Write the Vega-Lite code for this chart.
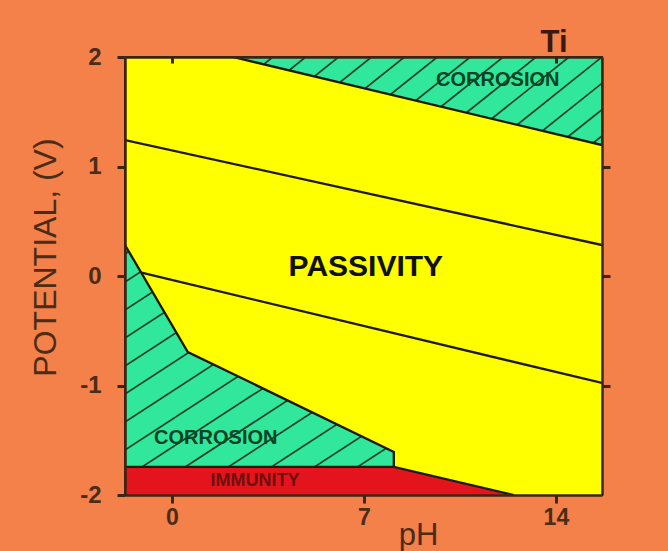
{
  "$schema": "https://vega.github.io/schema/vega-lite/v6.json",
  "width": 477,
  "height": 438,
  "autosize": {"type": "none"},
  "padding": {"left": 125, "top": 57, "right": 66, "bottom": 56},
  "background": "#F4804A",
  "config": {
    "font": "Liberation Sans",
    "view": {"fill": "#30E79B", "stroke": "#3d2413", "strokeWidth": 2}
  },
  "title": {"text": "Ti", "anchor": "end", "dx": -44, "dy": 41, "fontSize": 31, "fontWeight": "bold", "color": "#3a1a10", "offset": 3, "baseline": "alphabetic", "font": "Liberation Sans"},
  "datasets": {
    "hatch": [
      {"x": -17.4, "y": -2.1, "x2": -1.45, "y2": 0.5},
      {"x": -15.83, "y": -2.1, "x2": 0.12, "y2": 0.5},
      {"x": -14.26, "y": -2.1, "x2": 1.69, "y2": 0.5},
      {"x": -12.69, "y": -2.1, "x2": 3.26, "y2": 0.5},
      {"x": -11.12, "y": -2.1, "x2": 4.83, "y2": 0.5},
      {"x": -9.55, "y": -2.1, "x2": 6.4, "y2": 0.5},
      {"x": -7.98, "y": -2.1, "x2": 7.97, "y2": 0.5},
      {"x": -6.41, "y": -2.1, "x2": 9.54, "y2": 0.5},
      {"x": -4.84, "y": -2.1, "x2": 11.11, "y2": 0.5},
      {"x": -3.27, "y": -2.1, "x2": 12.68, "y2": 0.5},
      {"x": -1.7, "y": -2.1, "x2": 14.25, "y2": 0.5},
      {"x": -0.13, "y": -2.1, "x2": 15.82, "y2": 0.5},
      {"x": 1.44, "y": -2.1, "x2": 17.39, "y2": 0.5},
      {"x": 3.01, "y": -2.1, "x2": 18.96, "y2": 0.5},
      {"x": 4.58, "y": -2.1, "x2": 20.53, "y2": 0.5},
      {"x": 6.15, "y": -2.1, "x2": 22.1, "y2": 0.5},
      {"x": -1.32, "y": 1.0, "x2": 4.18, "y2": 2.1},
      {"x": -0.12, "y": 1.0, "x2": 5.38, "y2": 2.1},
      {"x": 1.08, "y": 1.0, "x2": 6.58, "y2": 2.1},
      {"x": 2.28, "y": 1.0, "x2": 7.78, "y2": 2.1},
      {"x": 3.48, "y": 1.0, "x2": 8.98, "y2": 2.1},
      {"x": 4.68, "y": 1.0, "x2": 10.18, "y2": 2.1},
      {"x": 5.88, "y": 1.0, "x2": 11.38, "y2": 2.1},
      {"x": 7.08, "y": 1.0, "x2": 12.58, "y2": 2.1},
      {"x": 8.28, "y": 1.0, "x2": 13.78, "y2": 2.1},
      {"x": 9.48, "y": 1.0, "x2": 14.98, "y2": 2.1},
      {"x": 10.68, "y": 1.0, "x2": 16.18, "y2": 2.1},
      {"x": 11.88, "y": 1.0, "x2": 17.38, "y2": 2.1},
      {"x": 13.08, "y": 1.0, "x2": 18.58, "y2": 2.1},
      {"x": 14.28, "y": 1.0, "x2": 19.78, "y2": 2.1}
    ],
    "passivity": [
      {"x": -1.71, "top": 2.0, "bot": 0.283},
      {"x": 0.58, "top": 2.0, "bot": -0.694},
      {"x": 2.22, "top": 2.0, "bot": -0.893},
      {"x": 8.08, "top": 1.649, "bot": -1.607},
      {"x": 8.1, "top": 1.648, "bot": -1.744},
      {"x": 12.47, "top": 1.388, "bot": -2.0},
      {"x": 15.68, "top": 1.196, "bot": -2.0}
    ],
    "immunity": [
      {"x": -1.71, "top": -1.744, "bot": -2.0},
      {"x": 8.09, "top": -1.744, "bot": -2.0},
      {"x": 12.47, "top": -2.0, "bot": -2.0}
    ],
    "lines": [
      {"s": "a", "i": 0, "x": 2.22, "y": 2.0},
      {"s": "a", "i": 1, "x": 15.68, "y": 1.196},
      {"s": "b", "i": 0, "x": -1.71, "y": 0.283},
      {"s": "b", "i": 1, "x": 0.58, "y": -0.694},
      {"s": "b", "i": 2, "x": 8.09, "y": -1.607},
      {"s": "b", "i": 3, "x": 8.09, "y": -1.744},
      {"s": "c", "i": 0, "x": -1.71, "y": -1.744},
      {"s": "c", "i": 1, "x": 8.09, "y": -1.744},
      {"s": "c", "i": 2, "x": 12.47, "y": -2.0},
      {"s": "d", "i": 0, "x": -1.71, "y": 1.242},
      {"s": "d", "i": 1, "x": 15.68, "y": 0.283},
      {"s": "e", "i": 0, "x": -1.11, "y": 0.03},
      {"s": "e", "i": 1, "x": 15.68, "y": -0.977}
    ],
    "labels": [
      {"kind": "corr", "x": 11.88, "y": 1.79, "text": "CORROSION"},
      {"kind": "corr", "x": 1.6, "y": -1.475, "text": "CORROSION"},
      {"kind": "pass", "x": 7.07, "y": 0.082, "text": "PASSIVITY"},
      {"kind": "imm", "x": 3.03, "y": -1.87, "text": "IMMUNITY"}
    ]
  },
  "resolve": {"axis": {"x": "independent", "y": "independent"}},
  "layer": [
    {
      "data": {"name": "hatch"},
      "mark": {"type": "rule", "clip": true, "color": "#17402a", "strokeWidth": 1.7},
      "encoding": {
        "x": {"field": "x", "type": "quantitative",
          "scale": {"domain": [-1.71, 15.68], "nice": false, "zero": false},
          "axis": {"orient": "bottom", "values": [0, 7, 14], "title": "pH", "titleX": 293, "titleY": 49, "titleBaseline": "alphabetic", "titleFontSize": 31, "titleFontWeight": "normal", "titleColor": "#4a2c17", "titleFont": "Liberation Sans", "labelFontSize": 23, "labelFontWeight": "bold", "labelColor": "#4a2c17", "labelPadding": 3, "tickSize": 8, "tickWidth": 3, "tickColor": "#3d2413", "domainColor": "#3d2413", "domainWidth": 2.5, "grid": false, "zindex": 1}},
        "y": {"field": "y", "type": "quantitative",
          "scale": {"domain": [-2, 2], "nice": false, "zero": false},
          "axis": {"orient": "left", "values": [-2, -1, 0, 1, 2], "labelExpr": "'' + datum.value", "title": "POTENTIAL, (V)", "titleX": -70, "titleY": 200, "titleBaseline": "alphabetic", "titleFontSize": 32, "titleFontWeight": "normal", "titleColor": "#4a2c17", "titleFont": "Liberation Sans", "labelFontSize": 24, "labelFontWeight": "bold", "labelColor": "#4a2c17", "labelPadding": 16, "tickSize": 8, "tickWidth": 3, "tickColor": "#3d2413", "domainColor": "#3d2413", "domainWidth": 2.5, "grid": false, "zindex": 1}},
        "x2": {"field": "x2"},
        "y2": {"field": "y2"}
      }
    },
    {
      "data": {"name": "passivity"},
      "mark": {"type": "area", "color": "#FFFF00", "opacity": 1, "interpolate": "linear"},
      "encoding": {
        "x": {"field": "x", "type": "quantitative",
          "axis": {"orient": "top", "values": [0, 14], "labels": false, "title": null, "tickSize": -6, "tickWidth": 3, "tickColor": "#3d2413", "domainColor": "#3d2413", "domainWidth": 2.5, "grid": false, "zindex": 1}},
        "y": {"field": "top", "type": "quantitative", "stack": null,
          "axis": {"orient": "right", "values": [-1, 0, 1], "labels": false, "title": null, "tickSize": 8, "tickWidth": 3, "tickColor": "#3d2413", "domainColor": "#3d2413", "domainWidth": 2.5, "grid": false, "zindex": 1}},
        "y2": {"field": "bot"}
      }
    },
    {
      "data": {"name": "immunity"},
      "mark": {"type": "area", "color": "#E3141B", "opacity": 1, "interpolate": "linear"},
      "encoding": {
        "x": {"field": "x", "type": "quantitative", "axis": null},
        "y": {"field": "top", "type": "quantitative", "stack": null, "axis": null},
        "y2": {"field": "bot"}
      }
    },
    {
      "data": {"name": "lines"},
      "mark": {"type": "line", "color": "#1f1a0c", "strokeWidth": 2.3, "clip": true},
      "encoding": {
        "x": {"field": "x", "type": "quantitative", "axis": null},
        "y": {"field": "y", "type": "quantitative", "axis": null},
        "detail": {"field": "s"},
        "order": {"field": "i", "type": "quantitative"}
      }
    },
    {
      "data": {"name": "labels"},
      "transform": [{"filter": "datum.kind === 'corr'"}],
      "mark": {"type": "text", "fontSize": 20, "fontWeight": "bold", "color": "#0b4424", "align": "center", "baseline": "middle"},
      "encoding": {
        "x": {"field": "x", "type": "quantitative", "axis": null},
        "y": {"field": "y", "type": "quantitative", "axis": null},
        "text": {"field": "text"}
      }
    },
    {
      "data": {"name": "labels"},
      "transform": [{"filter": "datum.kind === 'pass'"}],
      "mark": {"type": "text", "fontSize": 30, "fontWeight": "bold", "color": "#111111", "align": "center", "baseline": "middle"},
      "encoding": {
        "x": {"field": "x", "type": "quantitative", "axis": null},
        "y": {"field": "y", "type": "quantitative", "axis": null},
        "text": {"field": "text"}
      }
    },
    {
      "data": {"name": "labels"},
      "transform": [{"filter": "datum.kind === 'imm'"}],
      "mark": {"type": "text", "fontSize": 18, "fontWeight": "bold", "color": "#6e1010", "align": "center", "baseline": "middle"},
      "encoding": {
        "x": {"field": "x", "type": "quantitative", "axis": null},
        "y": {"field": "y", "type": "quantitative", "axis": null},
        "text": {"field": "text"}
      }
    }
  ]
}
